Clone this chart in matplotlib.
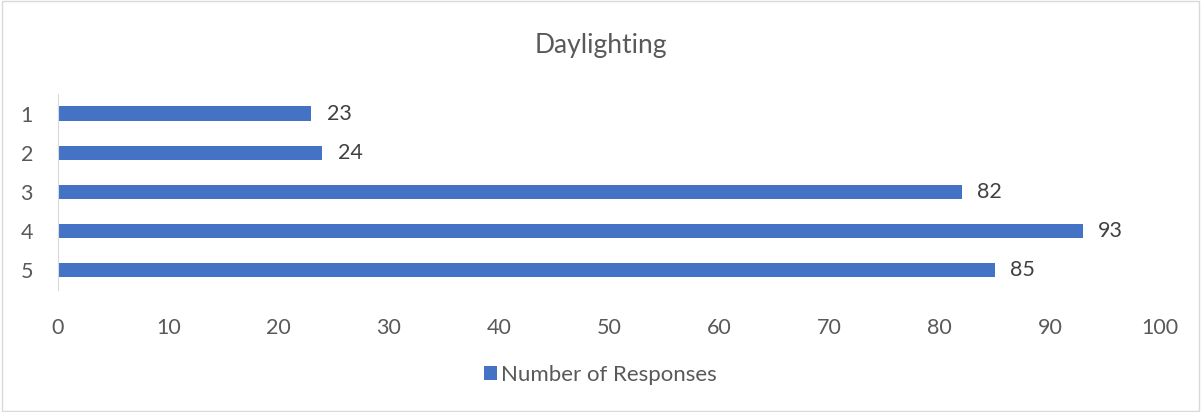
import matplotlib.pyplot as plt
from matplotlib.patches import Rectangle

categories = ["1", "2", "3", "4", "5"]
responses = [23, 24, 82, 93, 85]
ticks = [0, 10, 20, 30, 40, 50, 60, 70, 80, 90, 100]

plt.rcParams["font.family"] = ["Lato", "DejaVu Sans"]
text_col = "#595959"

fig = plt.figure(figsize=(12.01, 4.12), dpi=100)
ax = fig.add_axes([0.0483, 0.296, 0.9176, 0.476])

ypos = list(range(len(categories)))
ax.barh(ypos, responses, height=0.36, color="#4472C4", label="Number of Responses")
for y, v in zip(ypos, responses):
    ax.text(v + 1.4, y, str(v), va="center", ha="left", fontsize=15.5, color="#404040")

ax.set_ylim(4.5, -0.5)
ax.set_yticks(ypos, categories)
ax.set_xlim(0, 100)
ax.set_xticks(ticks)
ax.tick_params(axis="both", length=0, labelsize=15.5, colors=text_col)
ax.tick_params(axis="x", pad=20)
ax.tick_params(axis="y", pad=18)
for s in ["top", "right", "bottom"]:
    ax.spines[s].set_visible(False)
ax.spines["left"].set_color("#D9D9D9")

fig.text(0.5, 0.89, "Daylighting", ha="center", va="center", fontsize=19, color=text_col)
fig.legend(loc="center", bbox_to_anchor=(0.5, 0.09), frameon=False, fontsize=16,
           labelcolor=text_col, handlelength=0.55, handleheight=0.55, handletextpad=0.2)

fig.patches.append(Rectangle((0.002, 0.003), 0.996, 0.994, transform=fig.transFigure,
                             fill=False, edgecolor="#D9D9D9", linewidth=1))

fig.savefig("out.png", dpi=100)
